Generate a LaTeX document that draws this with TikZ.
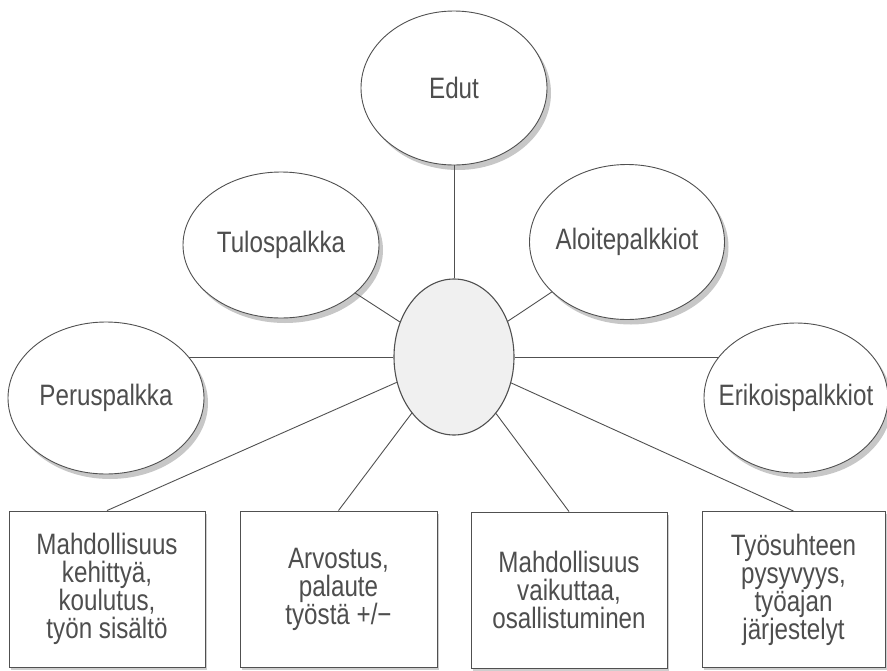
\documentclass[tikz,border=0pt]{standalone}
\usepackage{fontspec}
\setmainfont{Liberation Sans}[FakeStretch=0.82]
\usetikzlibrary{shapes.geometric,shadows}
\definecolor{ink}{HTML}{505050}
\definecolor{txt}{HTML}{4E4E4E}
\definecolor{hubfill}{HTML}{F0F0F0}
\tikzset{
  lbl/.style={text=txt,font=\fontsize{29.5}{28}\selectfont},
  oval/.style={ellipse,draw=ink,line width=0.9pt,fill=white,inner sep=-20pt,lbl,
    drop shadow={shadow xshift=4pt,shadow yshift=-5pt,opacity=0.4,fill=black!55}},
  hub/.style={ellipse,draw=ink,line width=1.1pt,fill=hubfill,inner sep=0pt,
    minimum width=120pt,minimum height=156pt},
  card/.style={rectangle,draw=ink,line width=0.9pt,fill=white,inner sep=0pt,lbl,align=center,
    minimum height=156pt,
    drop shadow={shadow xshift=2pt,shadow yshift=-2.5pt,opacity=0.35,fill=black!55}},
  link/.style={draw=ink,line width=0.9pt}
}
\begin{document}
\begin{tikzpicture}[x=1pt,y=-1pt]
\useasboundingbox (0,0) rectangle (887,670);
\node[hub] (c) at (454,357) {};
\node[oval,minimum width=186pt,minimum height=154pt] (edut) at (454,88) {Edut};
\node[oval,minimum width=196pt,minimum height=146pt] (tulos) at (281,245) {Tulospalkka};
\node[oval,minimum width=195pt,minimum height=155pt] (aloite) at (627,242) {Aloitepalkkiot};
\node[oval,minimum width=196pt,minimum height=152pt] (peru) at (106,398) {Peruspalkka};
\node[oval,minimum width=184pt,minimum height=150pt] (erik) at (796,398) {Erikoispalkkiot};
\coordinate (pe) at (188.5,357);
\coordinate (ek) at (719,357);
\node[card,minimum width=196pt] (b1) at (107,589) {Mahdollisuus\\kehittyä,\\koulutus,\\työn sisältö};
\node[card,minimum width=197pt] (b2) at (338.5,589) {Arvostus,\\palaute\\työstä +/−};
\node[card,minimum width=196pt] (b3) at (569,590) {Mahdollisuus\\vaikuttaa,\\osallistuminen};
\node[card,minimum width=183pt] (b4) at (793.5,589.5) {Työsuhteen\\pysyvyys,\\työajan\\järjestelyt};
\path[link] (c) -- (edut);
\path[link] (c) -- (tulos);
\path[link] (c) -- (aloite);
\path[link] (c) -- (pe);
\path[link] (c) -- (ek);
\path[link] (c) -- (b1.north);
\path[link] (c) -- (b2.north);
\path[link] (c) -- (b3.north);
\path[link] (c) -- (b4.north);
\end{tikzpicture}
\end{document}
